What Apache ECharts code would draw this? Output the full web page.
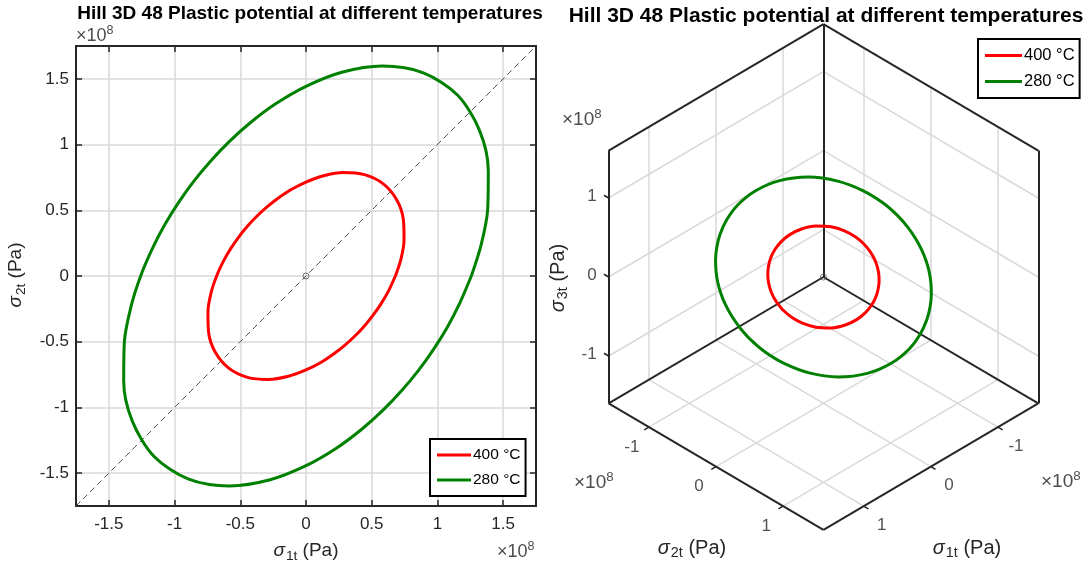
<!DOCTYPE html>
<html>
<head>
<meta charset="utf-8">
<script src="https://cdn.jsdelivr.net/npm/echarts@6/dist/echarts.min.js"></script>
<style>
  html, body { margin: 0; padding: 0; background: #fff; }
  #main { width: 1087px; height: 567px; }
</style>
</head>
<body>
<div id="main"></div>
<script>
// plastic potential curves, (sigma1t, sigma2t) in 1e8 Pa
var red400 = [
  [0.680, 0.000], [0.722, 0.127], [0.746, 0.272], [0.741, 0.428], [0.691, 0.579], [0.588, 0.701],
  [0.445, 0.771], [0.286, 0.787], [0.134, 0.763], [0.000, 0.715], [-0.116, 0.656], [-0.215, 0.590],
  [-0.301, 0.522], [-0.378, 0.451], [-0.448, 0.376], [-0.512, 0.296], [-0.573, 0.208], [-0.629, 0.111],
  [-0.680, 0.000], [-0.722, -0.127], [-0.746, -0.272], [-0.741, -0.428], [-0.691, -0.579], [-0.588, -0.701],
  [-0.445, -0.771], [-0.286, -0.787], [-0.134, -0.763], [0.000, -0.715], [0.116, -0.656], [0.215, -0.590],
  [0.301, -0.522], [0.378, -0.451], [0.448, -0.376], [0.512, -0.296], [0.573, -0.208], [0.629, -0.111],
  [0.680, 0.000]
];
var green280 = [
  [1.258, 0.000], [1.332, 0.235], [1.382, 0.503], [1.387, 0.801], [1.320, 1.108], [1.154, 1.375],
  [0.893, 1.546], [0.581, 1.597], [0.273, 1.550], [0.000, 1.443], [-0.231, 1.310], [-0.424, 1.166],
  [-0.588, 1.019], [-0.730, 0.870], [-0.856, 0.718], [-0.969, 0.560], [-1.074, 0.391], [-1.170, 0.206],
  [-1.258, 0.000], [-1.332, -0.235], [-1.382, -0.503], [-1.387, -0.801], [-1.320, -1.108], [-1.154, -1.375],
  [-0.893, -1.546], [-0.581, -1.597], [-0.273, -1.550], [0.000, -1.443], [0.231, -1.310], [0.424, -1.166],
  [0.588, -1.019], [0.730, -0.870], [0.856, -0.718], [0.969, -0.560], [1.074, -0.391], [1.170, -0.206],
  [1.258, 0.000]
];
var seriesNames = ['400 °C', '280 °C'];
var ticks2d = [-1.5, -1, -0.5, 0, 0.5, 1, 1.5];
var lim2 = 1.75;
var ticks3d = [-1, 0, 1];
var lim3 = 1.6;

var FONT = 'Liberation Sans, Arial, sans-serif';
var axisCol = '#262626';
var gridCol = '#d9d9d9';

// isometric view along (1,1,1), result in units of the hidden right-hand axes
function proj(p) {
  return [0.866 * (p[1] - p[0]), p[2] - 0.5 * (p[0] + p[1])];
}
function seg(a, b) { return { coords: [proj(a), proj(b)] }; }

var L = lim3, t = 0.07;
var boxEdges = [
  seg([-L, -L, -L], [-L, -L, L]), seg([-L, -L, -L], [L, -L, -L]), seg([-L, -L, -L], [-L, L, -L]),
  seg([-L, -L, L], [L, -L, L]), seg([L, -L, L], [L, -L, -L]), seg([L, -L, -L], [L, L, -L]),
  seg([L, L, -L], [-L, L, -L]), seg([-L, L, -L], [-L, L, L]), seg([-L, L, L], [-L, -L, L])
];
var gridSegs = [], tickSegs = [];
var lab1 = [], lab2 = [], lab3 = [];
ticks3d.forEach(function (v) {
  gridSegs.push(seg([v, -L, -L], [v, L, -L]), seg([-L, v, -L], [L, v, -L]));
  gridSegs.push(seg([v, -L, -L], [v, -L, L]), seg([-L, -L, v], [L, -L, v]));
  gridSegs.push(seg([-L, v, -L], [-L, v, L]), seg([-L, -L, v], [-L, L, v]));
  tickSegs.push(seg([L, -L, v], [L, -L - t, v]));
  tickSegs.push(seg([L, v, -L], [L + t, v, -L]));
  tickSegs.push(seg([v, L, -L], [v, L + t, -L]));
  lab3.push({ name: String(v), value: proj([L, -L, v]) });
  lab2.push({ name: String(v), value: proj([L, v, -L]) });
  lab1.push({ name: String(v), value: proj([v, L, -L]) });
});
var red3d = red400.map(function (p) { return proj([p[0], p[1], 0]); });
var green3d = green280.map(function (p) { return proj([p[0], p[1], 0]); });

function tickLabels(data, align, offset) {
  return {
    type: 'scatter', xAxisIndex: 2, yAxisIndex: 2, data: data, symbolSize: 1, silent: true,
    itemStyle: { color: 'rgba(0,0,0,0)' },
    label: { show: true, formatter: '{b}', position: 'inside', align: align, verticalAlign: 'middle',
      offset: offset, fontSize: 17, color: axisCol, fontFamily: FONT }
  };
}

function axisName(x, y, sub, size, rot) {
  return {
    type: 'text', x: x, y: y, rotation: rot || 0, silent: true,
    style: {
      text: '{s|σ}{b|' + sub + '}{n| (Pa)}', align: 'center', verticalAlign: 'middle',
      rich: {
        s: { fontSize: size, fontStyle: 'italic', fontFamily: FONT, fill: axisCol },
        b: { fontSize: size * 0.72, fontFamily: FONT, fill: axisCol, padding: [size * 0.55, 0, 0, 1] },
        n: { fontSize: size, fontFamily: FONT, fill: axisCol }
      }
    }
  };
}
function expo(x, y, size) {
  return {
    type: 'text', x: x, y: y, silent: true,
    style: {
      text: '{a|×10}{e|8}', align: 'left', verticalAlign: 'middle',
      rich: {
        a: { fontSize: size, fontFamily: FONT, fill: '#4d4d4d' },
        e: { fontSize: size * 0.7, fontFamily: FONT, fill: '#4d4d4d', padding: [0, 0, size * 0.6, 0] }
      }
    }
  };
}
function boxAxis(grid, pos, labels) {
  return {
    type: 'value', gridIndex: grid, position: pos, min: -lim2, max: lim2,
    axisLine: { onZero: false, lineStyle: { color: axisCol, width: 2 } },
    axisTick: { inside: true, length: 6, customValues: ticks2d, lineStyle: { color: axisCol, width: 1.5 } },
    axisLabel: { show: labels, customValues: ticks2d, fontSize: 17, color: axisCol, fontFamily: FONT,
      margin: pos === 'bottom' ? 10 : 7 },
    splitLine: { show: labels, lineStyle: { color: gridCol, width: 1.5 } }
  };
}
function legendBox(left, top, size, w) {
  return {
    data: seriesNames, left: left, top: top, orient: 'vertical', selectedMode: false,
    icon: 'rect', itemWidth: w, itemHeight: 3, itemGap: 9,
    padding: [8, 5, 8, 7], borderColor: '#000', borderWidth: 2, backgroundColor: '#fff',
    textStyle: { fontSize: size, color: '#000', fontFamily: FONT, padding: [0, 0, 0, -3] }
  };
}

var chart = echarts.init(document.getElementById('main'));
chart.setOption({
  animation: false,
  backgroundColor: '#fff',
  grid: [
    { left: 76, top: 46, width: 460, height: 460 },
    { left: 559.9, top: 8.4, width: 537.2, height: 537.2 }
  ],
  xAxis: [
    boxAxis(0, 'bottom', true),
    boxAxis(0, 'top', false),
    { type: 'value', gridIndex: 1, min: -3.4, max: 3.4, show: false }
  ],
  yAxis: [
    boxAxis(0, 'left', true),
    boxAxis(0, 'right', false),
    { type: 'value', gridIndex: 1, min: -3.4, max: 3.4, show: false }
  ],
  legend: [legendBox(430, 439, 15.5, 34), legendBox(978, 39, 16.5, 37)],
  graphic: [
    { type: 'text', x: 310, y: 14, silent: true,
      style: { text: 'Hill 3D 48 Plastic potential at different temperatures', align: 'center', verticalAlign: 'middle',
        font: 'bold 19px ' + FONT, fill: '#000' } },
    { type: 'text', x: 826, y: 16, silent: true,
      style: { text: 'Hill 3D 48 Plastic potential at different temperatures', align: 'center', verticalAlign: 'middle',
        font: 'bold 21px ' + FONT, fill: '#000' } },
    axisName(306, 551, '1t', 19),
    axisName(16, 275, '2t', 19, Math.PI / 2),
    axisName(692, 548, '2t', 20),
    axisName(967, 548, '1t', 20),
    axisName(558, 278, '3t', 20, Math.PI / 2),
    expo(76, 36, 18),
    expo(497, 552, 18),
    expo(562, 120, 19),
    expo(574, 483, 19),
    expo(1041, 482, 19)
  ],
  series: [
    { type: 'line', xAxisIndex: 0, yAxisIndex: 0, data: [[-lim2, -lim2], [lim2, lim2]], symbol: 'none', silent: true,
      lineStyle: { color: '#505050', width: 1, type: [6, 4] }, z: 2 },
    { type: 'line', name: seriesNames[0], xAxisIndex: 0, yAxisIndex: 0, data: red400, smooth: 0.3, symbol: 'none',
      lineStyle: { color: '#ff0000', width: 3 }, itemStyle: { color: '#ff0000' }, z: 3 },
    { type: 'line', name: seriesNames[1], xAxisIndex: 0, yAxisIndex: 0, data: green280, smooth: 0.3, symbol: 'none',
      lineStyle: { color: '#008000', width: 3 }, itemStyle: { color: '#008000' }, z: 3 },
    { type: 'scatter', xAxisIndex: 0, yAxisIndex: 0, data: [[0, 0]], symbolSize: 6, silent: true,
      itemStyle: { color: 'rgba(0,0,0,0)', borderColor: '#555', borderWidth: 1 }, z: 4 },

    { type: 'lines', coordinateSystem: 'cartesian2d', xAxisIndex: 2, yAxisIndex: 2, data: gridSegs, silent: true,
      lineStyle: { color: gridCol, width: 1.5, opacity: 1 }, z: 1 },
    { type: 'lines', coordinateSystem: 'cartesian2d', xAxisIndex: 2, yAxisIndex: 2, data: boxEdges, silent: true,
      lineStyle: { color: axisCol, width: 2, opacity: 1 }, z: 2 },
    { type: 'lines', coordinateSystem: 'cartesian2d', xAxisIndex: 2, yAxisIndex: 2, data: tickSegs, silent: true,
      lineStyle: { color: axisCol, width: 1.5, opacity: 1 }, z: 2 },
    { type: 'line', name: seriesNames[0], xAxisIndex: 2, yAxisIndex: 2, data: red3d, smooth: 0.3, symbol: 'none',
      lineStyle: { color: '#ff0000', width: 3 }, itemStyle: { color: '#ff0000' }, z: 3 },
    { type: 'line', name: seriesNames[1], xAxisIndex: 2, yAxisIndex: 2, data: green3d, smooth: 0.3, symbol: 'none',
      lineStyle: { color: '#008000', width: 3 }, itemStyle: { color: '#008000' }, z: 3 },
    { type: 'scatter', xAxisIndex: 2, yAxisIndex: 2, data: [proj([0, 0, 0])], symbolSize: 6, silent: true,
      itemStyle: { color: 'rgba(0,0,0,0)', borderColor: '#555', borderWidth: 1 }, z: 4 },
    tickLabels(lab3, 'right', [-12, -2]),
    tickLabels(lab2, 'center', [-17, 20]),
    tickLabels(lab1, 'center', [18, 19])
  ]
});
</script>
</body>
</html>
